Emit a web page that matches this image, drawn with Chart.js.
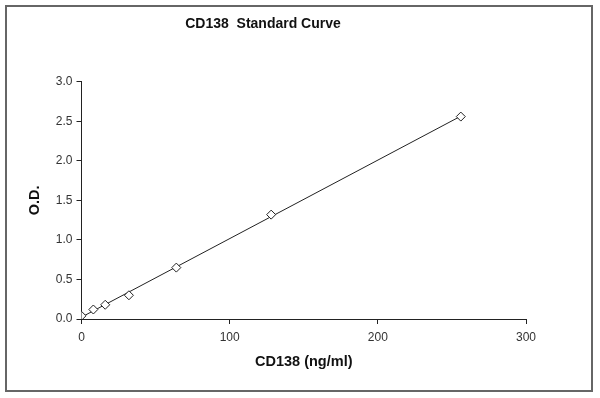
<!DOCTYPE html>
<html>
<head>
<meta charset="utf-8">
<title>CD138 Standard Curve</title>
<script src="https://cdn.jsdelivr.net/npm/chart.js@4/dist/chart.umd.min.js"></script>
<style>
  html, body { margin: 0; padding: 0; background: #fff; }
  #wrap { width: 600px; height: 398px; position: relative; }
</style>
</head>
<body>
<div id="wrap"><canvas id="curveChart"></canvas></div>
<script>
// standard curve readings
const concentrations = [0, 8, 16, 32, 64, 128, 256];   // ng/ml
const odValues = [0.04, 0.12, 0.18, 0.30, 0.65, 1.32, 2.56];
const xTicks = [0, 100, 200, 300];
const yTicks = [0, 0.5, 1.0, 1.5, 2.0, 2.5, 3.0];

// least squares line through the standards
function linearFit(xs, ys) {
    const n = xs.length;
    const mx = xs.reduce((a, b) => a + b, 0) / n;
    const my = ys.reduce((a, b) => a + b, 0) / n;
    let sxy = 0, sxx = 0;
    xs.forEach((x, i) => {
        sxy += (x - mx) * (ys[i] - my);
        sxx += (x - mx) * (x - mx);
    });
    const slope = sxy / sxx;
    return { slope: slope, intercept: my - slope * mx };
}

const fit = linearFit(concentrations, odValues);
const xFirst = concentrations[0];
const xLast = concentrations[concentrations.length - 1];

const frameBorder = {
    id: 'frameBorder',
    beforeDraw(chart) {
        const c = chart.ctx;
        c.save();
        c.fillStyle = '#fff';
        c.fillRect(0, 0, chart.width, chart.height);
        c.strokeStyle = '#666';
        c.lineWidth = 2;
        c.strokeRect(6, 6, 586, 385);
        c.restore();
    }
};

const tickFont = { family: '"Liberation Sans", Arial, sans-serif', size: 12 };
const titleFont = { family: '"Liberation Sans", Arial, sans-serif', size: 14.5, weight: 'bold' };

new Chart(document.getElementById('curveChart').getContext('2d'), {
    type: 'scatter',
    data: {
        datasets: [{
            label: 'Fit',
            data: [
                { x: xFirst, y: fit.intercept + fit.slope * xFirst },
                { x: xLast, y: fit.intercept + fit.slope * xLast }
            ],
            showLine: true,
            borderColor: '#222',
            borderWidth: 1,
            pointRadius: 0,
            order: 2
        }, {
            label: 'Standards',
            data: concentrations.map((x, i) => ({ x: x, y: odValues[i] })),
            pointStyle: 'rectRot',
            pointRadius: 4.5,
            pointBackgroundColor: '#fff',
            pointBorderColor: '#222',
            pointBorderWidth: 1,
            order: 1
        }]
    },
    options: {
        responsive: true,
        maintainAspectRatio: false,
        animation: false,
        layout: { padding: { left: 0, right: 74, top: 0, bottom: 19 } },
        plugins: {
            legend: { display: false },
            tooltip: { enabled: false },
            title: {
                display: true,
                text: 'CD138  Standard Curve',
                color: '#111',
                font: { family: '"Liberation Sans", Arial, sans-serif', size: 14, weight: 'bold' },
                padding: { top: 16, bottom: 49 }
            }
        },
        scales: {
            x: {
                type: 'linear',
                min: 0,
                max: 300,
                afterFit: scale => { scale.height = 60; },
                afterBuildTicks: scale => { scale.ticks = xTicks.map(v => ({ value: v })); },
                grid: { drawOnChartArea: false, drawTicks: true, tickLength: 5, color: '#222' },
                border: { color: '#222', width: 1 },
                ticks: { color: '#333', font: tickFont, padding: 6, maxRotation: 0 },
                title: { display: true, text: 'CD138 (ng/ml)', color: '#111', font: titleFont, padding: { top: 0, bottom: 8 } }
            },
            y: {
                type: 'linear',
                min: 0,
                max: 3,
                afterFit: scale => { scale.width = 81.5; },
                afterBuildTicks: scale => { scale.ticks = yTicks.map(v => ({ value: v })); },
                grid: { drawOnChartArea: false, drawTicks: true, tickLength: 5, color: '#222' },
                border: { color: '#222', width: 1 },
                ticks: { color: '#333', font: tickFont, padding: 4, callback: v => v.toFixed(1) },
                title: { display: true, text: 'O.D.', color: '#111', font: titleFont, padding: { top: 26, bottom: 0 } }
            }
        }
    },
    plugins: [frameBorder]
});
</script>
</body>
</html>
